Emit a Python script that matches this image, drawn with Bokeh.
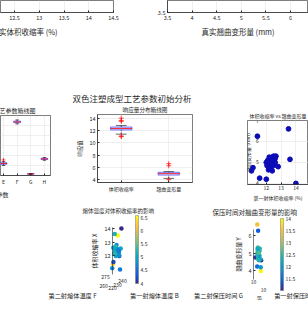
import numpy as np
from bokeh.plotting import figure
from bokeh.layouts import column, row
from bokeh.models import (Spacer, Title, LinearAxis, FixedTicker, ColorBar, LinearColorMapper,
                          Range1d, NumeralTickFormatter, ColumnDataSource)
from bokeh.core.properties import value
from bokeh.embed import file_html
from bokeh.resources import INLINE

FONT = "Noto Sans CJK SC"
INK = "#262626"
GRID = "#e4e4e4"

# ---------------- data ----------------
top_left_ticks = [12.5, 13, 13.5, 14, 14.5]
top_left_label = "真实体积收缩率 (%)"
top_right_ticks = [3.5, 4, 4.5, 5, 5.5, 6]
top_right_label = "真实翘曲变形量 (mm)"

suptitle = "双色注塑成型工艺参数初始分析"

param_names = ["E", "F", "G", "H"]
param_pos = [5, 6, 7, 8]
param_lo = [50, 258, 5, 76]
param_q1 = [56, 264, 7, 80]
param_med = [60, 268, 8, 83]
param_q3 = [64, 272, 9, 86]
param_hi = [70, 278, 10, 90]
param_out_pos = [5]
param_out_val = [78]

response_names = ["体积收缩率", "翘曲变形量"]

shrink = [13.5, 11.4, 14.0, 13.6, 12.8, 11.1, 11.0, 11.55, 12.0,
          12.0, 12.1, 12.2, 12.3, 12.4, 12.5, 12.6, 12.55, 12.35, 12.25,
          12.15, 12.3, 12.45, 12.65, 12.5, 12.2, 12.4, 12.05, 12.6]
warp = [6.6, 6.25, 4.0, 5.15, 4.8, 4.75, 4.6, 4.25, 4.2,
        5.0, 5.1, 4.9, 5.2, 5.25, 5.3, 5.2, 5.05, 4.95, 4.8,
        4.65, 4.7, 5.1, 5.3, 4.85, 5.25, 4.6, 4.85, 5.0]
melt_B = [232, 224, 238, 228, 230, 222, 236, 226, 234, 229, 231, 233, 227, 235,
          230, 225, 237, 228, 232, 226, 234, 230, 229, 231, 227, 233, 236, 224]
melt_F = [270, 264, 275, 262, 268, 266, 272, 260, 274, 267, 269, 271, 265, 268,
          270, 263, 273, 266, 269, 267, 271, 268, 264, 270, 266, 272, 265, 269]
hold_C = [8, 6, 9, 7, 7.5, 6.5, 8.5, 7, 9.5, 7.5, 8, 7, 6.5, 8,
          7.5, 7, 8.5, 6, 7.5, 8, 7, 7.5, 8, 6.5, 7, 8, 7.5, 9]
hold_G = [9, 7, 6, 8, 7.5, 10, 5.5, 8.5, 6.5, 7.5, 7, 8, 7.5, 6.5,
          8, 7, 9, 7.5, 8, 6, 7.5, 7, 8.5, 7, 8, 7.5, 6.5, 8]

B_ticks = [220, 230, 240]
F_ticks = [260, 275]
C_ticks = [5, 10]
G_ticks = [5, 10]

# parula-like colour stops
PARULA = ["#352a87", "#0f5cdd", "#1481d6", "#06a4ca", "#2eb7a4",
          "#87bf77", "#d1bb59", "#fec832", "#f9fb0e"]


def make_palette(stops, n=64):
    rgb = np.array([[int(s[i:i + 2], 16) for i in (1, 3, 5)] for s in stops], float)
    t = np.linspace(0, 1, len(stops))
    tt = np.linspace(0, 1, n)
    out = np.stack([np.interp(tt, t, rgb[:, k]) for k in range(3)], axis=1)
    return ["#%02x%02x%02x" % tuple(int(round(c)) for c in r) for r in out]


PAL = make_palette(PARULA)


def base(w, h, xr, yr, **kw):
    p = figure(width=w, height=h, x_range=xr, y_range=yr, output_backend="svg",
               toolbar_location=None, frame_align=False, **kw)
    p.background_fill_color = "white"
    p.border_fill_color = "white"
    p.outline_line_color = None
    return p


def style_axis(ax, fs="5px"):
    ax.axis_line_color = INK
    ax.axis_line_width = 0.6
    ax.major_tick_line_color = INK
    ax.major_tick_in = 2
    ax.major_tick_out = 0
    ax.minor_tick_line_color = None
    ax.major_label_text_font = FONT
    ax.major_label_text_font_size = fs
    ax.major_label_text_color = INK
    ax.major_label_standoff = 2
    ax.axis_label_text_font = FONT
    ax.axis_label_text_font_size = fs
    ax.axis_label_text_font_style = "normal"
    ax.axis_label_standoff = 2
    ax.axis_label_text_color = INK


def style_title(t, fs, align="center", offset=0, standoff=1):
    t.text_font = FONT
    t.text_font_size = fs
    t.text_font_style = "normal"
    t.text_color = INK
    t.align = align
    t.offset = offset
    t.standoff = standoff


def grid(p):
    for g in p.grid:
        g.grid_line_color = GRID
        g.grid_line_width = 0.6


def draw_box(p, pos, lo, q1, med, q3, hi, w, outx, outy, msize):
    pos = np.asarray(pos, float)
    p.quad(left=pos - w / 2, right=pos + w / 2, bottom=q1, top=q3,
           fill_color="#dcdcf7", line_color="#4040ff", line_width=0.7)
    p.segment(x0=pos, y0=q3, x1=pos, y1=hi, line_color="#000000", line_dash="2 1", line_width=0.6)
    p.segment(x0=pos, y0=lo, x1=pos, y1=q1, line_color="#000000", line_dash="2 1", line_width=0.6)
    p.segment(x0=pos - w / 4, y0=hi, x1=pos + w / 4, y1=hi, line_color="#000000", line_width=0.6)
    p.segment(x0=pos - w / 4, y0=lo, x1=pos + w / 4, y1=lo, line_color="#000000", line_width=0.6)
    p.segment(x0=pos - w / 2, y0=med, x1=pos + w / 2, y1=med, line_color="#ff0000", line_width=0.8)
    if len(outx):
        p.scatter(outx, outy, marker="cross", size=msize, line_color="#ff0000", line_width=0.7)


fmt = NumeralTickFormatter(format="0.[0]")

# ---------------- top row ----------------
tl = base(154, 40, Range1d(12.217, 14.5), Range1d(0, 1), y_axis_location=None,
          min_border_left=0, min_border_right=41, min_border_top=0, min_border_bottom=28)
tl.outline_line_color = INK
tl.outline_line_width = 0.6
tl.xaxis.ticker = FixedTicker(ticks=top_left_ticks)
tl.xaxis.formatter = fmt
style_axis(tl.xaxis, "5.5px")
grid(tl)
tl.ygrid.visible = False
t = Title(text=top_left_label)
style_title(t, "7.5px", "left", -9, 2)
tl.add_layout(t, "below")

tr = base(154, 40, Range1d(3.5, 6.366), Range1d(3.5, 3.745),
          min_border_left=13, min_border_right=0, min_border_top=0, min_border_bottom=28)
tr.outline_line_color = INK
tr.outline_line_width = 0.6
tr.xaxis.ticker = FixedTicker(ticks=top_right_ticks)
tr.xaxis.formatter = fmt
tr.yaxis.ticker = FixedTicker(ticks=[3.5])
tr.yaxis.formatter = fmt
style_axis(tr.xaxis, "5.5px")
style_axis(tr.yaxis, "5.5px")
grid(tr)
t = Title(text=top_right_label)
style_title(t, "7.5px", "center", 16, 2)
tr.add_layout(t, "below")

# ---------------- figure-wide title band ----------------
band = base(308, 63, Range1d(0, 1), Range1d(0, 1), x_axis_type=None, y_axis_type=None,
            min_border_left=0, min_border_right=0, min_border_top=0, min_border_bottom=0)
t = Title(text=suptitle)
style_title(t, "8.5px", "left", 72, 0)
band.add_layout(t, "below")

# ---------------- middle row ----------------
ml = base(60, 100, Range1d(4.78, 8.45), Range1d(0, 300), y_axis_location=None,
          title="工艺参数箱线图",
          min_border_left=0, min_border_right=10, min_border_top=7, min_border_bottom=28)
ml.outline_line_color = INK
ml.outline_line_width = 0.6
style_title(ml.title, "6px", "right", 15, 1)
ml.xaxis.ticker = FixedTicker(ticks=param_pos)
ml.xaxis.major_label_overrides = {pp: nm for pp, nm in zip(param_pos, param_names)}
style_axis(ml.xaxis, "5px")
grid(ml)
draw_box(ml, param_pos, param_lo, param_q1, param_med, param_q3, param_hi, 0.5,
         param_out_pos, param_out_val, 4)
t = Title(text="工艺参数")
style_title(t, "6px", "right", 42, 1)
ml.add_layout(t, "below")

mm = base(165, 100, Range1d(0.5, 2.5), Range1d(3.53, 14.6), title="响应量分布箱线图",
          min_border_left=37, min_border_right=33, min_border_top=8, min_border_bottom=21)
mm.outline_line_color = INK
mm.outline_line_width = 0.6
style_title(mm.title, "5.6px", "center", 0, 1)
mm.xaxis.ticker = FixedTicker(ticks=[1, 2])
mm.xaxis.major_label_overrides = {1: response_names[0], 2: response_names[1]}
mm.yaxis.ticker = FixedTicker(ticks=[4, 6, 8, 10, 12, 14])
mm.yaxis.axis_label = "响应值"
style_axis(mm.xaxis, "5px")
style_axis(mm.yaxis, "5.5px")
grid(mm)
for i, vals in enumerate([shrink, warp]):
    v = np.asarray(vals, float)
    q1, med, q3 = np.percentile(v, [25, 50, 75])
    iqr = q3 - q1
    inside = v[(v >= q1 - 1.5 * iqr) & (v <= q3 + 1.5 * iqr)]
    outl = v[(v < q1 - 1.5 * iqr) | (v > q3 + 1.5 * iqr)]
    draw_box(mm, [i + 1], [inside.min()], [q1], [med], [q3], [inside.max()], 0.45,
             [i + 1] * len(outl), list(outl), 5)

mr = base(83, 100, Range1d(10.73, 14.85), Range1d(3.95, 7.0), y_axis_location=None,
          title="体积收缩率 vs 翘曲变形量",
          min_border_left=22, min_border_right=0, min_border_top=17, min_border_bottom=15)
mr.outline_line_color = INK
mr.outline_line_width = 0.6
style_title(mr.title, "5px", "center", 0, 3)
mr.xaxis.ticker = FixedTicker(ticks=[12, 13, 14])
mr.xaxis.axis_label = "第一射体积收缩率 (%)"
style_axis(mr.xaxis, "5px")
mr.xaxis.major_label_standoff = 1
mr.xaxis.axis_label_standoff = 1
mr_y = LinearAxis(fixed_location=11.63, ticker=FixedTicker(ticks=[4, 5, 6, 7]),
                  axis_label="翘曲变形量 (mm)")
style_axis(mr_y, "5px")
mr_y.axis_line_color = None
mr_y.major_tick_line_color = None
mr.add_layout(mr_y, "left")
grid(mr)
mr.ygrid.ticker = FixedTicker(ticks=[4, 5, 6, 7])
mr.scatter(shrink, warp, size=4.8, fill_color="#0b0bb8", line_color="#0b0bb8")

# ---------------- bottom row ----------------
B = np.asarray(melt_B, float)
F = np.asarray(melt_F, float)
bm = base(142, 106, Range1d(-76, 66), Range1d(8.07, 14.96), x_axis_type=None, y_axis_type=None,
          title="熔体温度对体积收缩率的影响",
          min_border_left=0, min_border_right=0, min_border_top=0, min_border_bottom=0)
style_title(bm.title, "5.5px", "left", 42, 2)
bm_map = LinearColorMapper(palette=PAL, low=min(warp), high=max(warp))
bm_x = 0.5 * (B - 230) + 0.13 * (F - 268)
src_bm = ColumnDataSource(dict(x=bm_x, y=shrink, c=warp))
bm.scatter("x", "y", source=src_bm, size=4.5, line_color=None,
           fill_color={"field": "c", "transform": bm_map})
bm_z = LinearAxis(fixed_location=-4, bounds=(10.6, 14.1), ticker=FixedTicker(ticks=[12, 13, 14]),
                  axis_label="体积收缩率 X")
style_axis(bm_z, "5.5px")
bm_z.axis_label_text_font_size = "6px"
bm.add_layout(bm_z, "left")
Bt = np.asarray(B_ticks, float)
Ft = np.asarray(F_ticks, float)
bm.text(x=-4 + 0.5 * (Bt - 220), y=9.63 + 0.026 * (Bt - 220), text=[str(v) for v in B_ticks],
        text_font=value(FONT), text_font_size="5px", text_color=INK,
        text_align="center", text_baseline="middle")
bm.text(x=-11 + 0.13 * (Ft - 275), y=10.44 + 0.044 * (Ft - 275), text=[str(v) for v in F_ticks],
        text_font=value(FONT), text_font_size="5px", text_color=INK,
        text_align="center", text_baseline="middle")
bm.text(x=[-44, 38], y=[9.11, 9.11], text=["第二射熔体温度 F", "第一射熔体温度 B"],
        text_font=value(FONT), text_font_size="6.2px", text_color=INK,
        text_align="center", text_baseline="middle")
bm_cb = ColorBar(color_mapper=bm_map, location=(95, 26), width=3, height=68, padding=0, margin=0,
                 ticker=FixedTicker(ticks=[4, 4.5, 5, 5.5, 6, 6.5]), formatter=fmt,
                 major_label_text_font=FONT, major_label_text_font_size="5px",
                 major_label_text_color=INK, label_standoff=2, major_tick_line_color=None,
                 bar_line_color="#777777", bar_line_width=0.5, background_fill_alpha=0)
bm.add_layout(bm_cb)

C = np.asarray(hold_C, float)
G = np.asarray(hold_G, float)
br = base(126, 106, Range1d(-76, 50), Range1d(1.83, 7.0), x_axis_type=None, y_axis_type=None,
          title="保压时间对翘曲变形量的影响",
          min_border_left=0, min_border_right=0, min_border_top=0, min_border_bottom=0)
style_title(br.title, "6.5px", "left", 30, 2)
br_map = LinearColorMapper(palette=PAL, low=min(shrink), high=max(shrink))
br_x = -1.0 * (G - 7.5) + 0.6 * (C - 7.5)
src_br = ColumnDataSource(dict(x=br_x, y=warp, c=shrink))
br.scatter("x", "y", source=src_br, size=4.5, line_color=None,
           fill_color={"field": "c", "transform": br_map})
br_z = LinearAxis(fixed_location=-5, bounds=(3.5, 6.3), ticker=FixedTicker(ticks=[4, 5, 6]),
                  axis_label="翘曲变形量 Y")
style_axis(br_z, "5.5px")
br_z.axis_label_text_font_size = "6px"
br.add_layout(br_z, "left")
Gt = np.asarray(G_ticks, float)
Ct = np.asarray(C_ticks, float)
br.text(x=-5 - 1.0 * (Gt - 10), y=3.39 + 0.178 * (Gt - 10), text=[str(v) for v in G_ticks],
        text_font=value(FONT), text_font_size="5px", text_color=INK,
        text_align="center", text_baseline="middle")
br.text(x=5 + 0.6 * (Ct - 10), y=2.94 + 0.088 * (Ct - 10), text=[str(v) for v in C_ticks],
        text_font=value(FONT), text_font_size="5px", text_color=INK,
        text_align="center", text_baseline="middle")
br.text(x=[-40, 40], y=[2.61, 2.61], text=["第二射保压时间 G", "第一射保压时间 C"],
        text_font=value(FONT), text_font_size="6.2px", text_color=INK,
        text_align="center", text_baseline="middle")
br_cb = ColorBar(color_mapper=br_map, location=(98, 19), width=3, height=72, padding=0, margin=0,
                 ticker=FixedTicker(ticks=[11.5, 12, 12.5, 13, 13.5, 14]), formatter=fmt,
                 major_label_text_font=FONT, major_label_text_font_size="5px",
                 major_label_text_color=INK, label_standoff=2, major_tick_line_color=None,
                 bar_line_color="#777777", bar_line_width=0.5, background_fill_alpha=0)
br.add_layout(br_cb)

layout = column(
    row(tl, tr, spacing=0),
    band,
    row(ml, mm, mr, spacing=0),
    row(Spacer(width=40, height=106), bm, br, spacing=0),
    spacing=0,
)

open("out.html", "w").write(file_html(layout, INLINE))
